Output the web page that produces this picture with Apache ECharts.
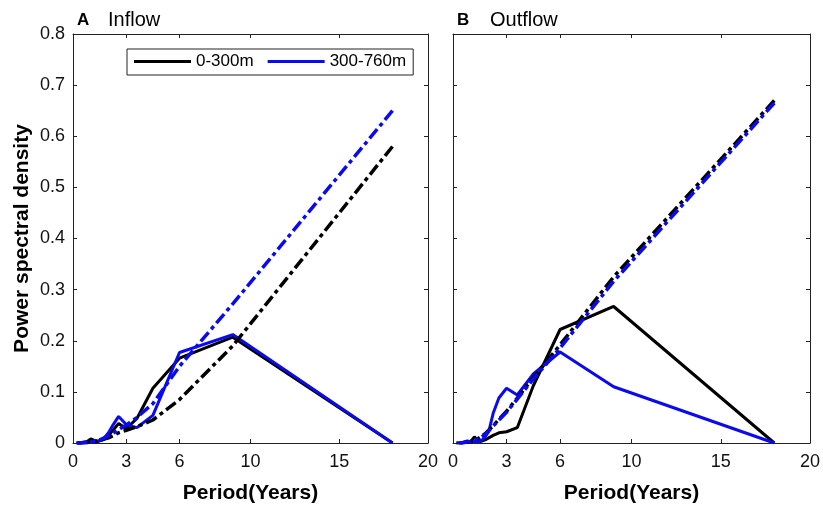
<!DOCTYPE html>
<html>
<head>
<meta charset="utf-8">
<script src="https://cdn.jsdelivr.net/npm/echarts@6/dist/echarts.min.js"></script>
<style>
  html, body { margin: 0; padding: 0; background: #fff; }
  #chart { width: 823px; height: 506px; }
</style>
</head>
<body>
<div id="chart"></div>
<script>
// periods (years) of the spectral estimates
var periods = [18, 9, 6, 4.5, 3.6, 3, 2.57, 2.25, 2, 1.8, 1.64, 1.5, 1.38, 1.2, 1, 0.8, 0.6, 0.4, 0.2];

// A - inflow
var inflowUpper = [0, 0.207, 0.166, 0.107, 0.048, 0.028, 0.038, 0.025, 0.015, 0.009, 0.006, 0.004, 0.003, 0.005, 0.008, 0.003, 0.001, 0, 0];
var inflowLower = [0, 0.212, 0.177, 0.054, 0.03, 0.036, 0.052, 0.035, 0.02, 0.012, 0.008, 0.005, 0.003, 0.002, 0.002, 0.001, 0, 0, 0];
var inflowUpperSig = [0.58, 0.19, 0.085, 0.045, 0.032, 0.025, 0.02, 0.014, 0.01, 0.008, 0.006, 0.005, 0.004, 0.003, 0.002, 0.001, 0.001, 0, 0];
var inflowLowerSig = [0.65, 0.272, 0.15, 0.077, 0.05, 0.035, 0.026, 0.019, 0.014, 0.01, 0.008, 0.006, 0.005, 0.004, 0.002, 0.001, 0.001, 0, 0];

// B - outflow
var outflowUpper = [0, 0.267, 0.222, 0.112, 0.03, 0.022, 0.02, 0.015, 0.01, 0.006, 0.004, 0.003, 0.005, 0.012, 0.003, 0.002, 0.001, 0, 0];
var outflowLower = [0, 0.11, 0.178, 0.135, 0.094, 0.107, 0.088, 0.058, 0.022, 0.012, 0.006, 0.004, 0.002, 0.003, 0.002, 0.004, 0.001, 0, 0];
var outflowUpperSig = [0.67, 0.325, 0.192, 0.128, 0.088, 0.062, 0.046, 0.034, 0.025, 0.018, 0.014, 0.011, 0.008, 0.006, 0.003, 0.002, 0.001, 0, 0];
var outflowLowerSig = [0.665, 0.316, 0.186, 0.125, 0.086, 0.06, 0.045, 0.033, 0.024, 0.017, 0.013, 0.01, 0.008, 0.006, 0.003, 0.002, 0.001, 0, 0];

var xTicks = [0, 3, 6, 10, 15, 20];
var layerNames = ['0-300m', '300-760m'];

var BLACK = '#000000';
var BLUE = '#0a0af0';
var FONT = 'Liberation Sans, Arial, sans-serif';
var dashDot = [12, 4, 4, 4];

function pairs(ys) {
    return periods.map(function (p, i) { return [p, ys[i]]; });
}

var chart = echarts.init(document.getElementById('chart'));

function xAxisFor(grid, pos) {
    var bottom = pos === 'bottom';
    return {
        type: 'value', gridIndex: grid, position: pos,
        min: 0, max: 20,
        name: bottom ? 'Period(Years)' : '',
        nameLocation: 'middle', nameGap: 40,
        nameTextStyle: { fontFamily: FONT, fontSize: 21, fontWeight: 'bold', color: '#000' },
        axisLine: { onZero: false, lineStyle: { color: '#222', width: 1 } },
        axisTick: { inside: true, length: 4, customValues: xTicks, lineStyle: { color: '#222' } },
        axisLabel: {
            show: bottom, customValues: xTicks, margin: 10,
            fontFamily: FONT, fontSize: 18, color: '#111'
        },
        splitLine: { show: false }
    };
}

function yAxisFor(grid, pos, labels) {
    return {
        type: 'value', gridIndex: grid, position: pos,
        min: 0, max: 0.8, interval: 0.1,
        name: labels ? 'Power spectral density' : '',
        nameLocation: 'middle', nameGap: 40,
        nameTextStyle: { fontFamily: FONT, fontSize: 21, fontWeight: 'bold', color: '#000' },
        axisLine: { show: true, onZero: false, lineStyle: { color: '#222', width: 1 } },
        axisTick: { show: true, inside: true, length: 4, lineStyle: { color: '#222' } },
        axisLabel: {
            show: labels, margin: 8,
            fontFamily: FONT, fontSize: 18, color: '#111',
            formatter: function (v) { return String(Math.round(v * 10) / 10); }
        },
        splitLine: { show: false }
    };
}

function line(name, grid, ys, color, dashed) {
    return {
        name: name, type: 'line',
        xAxisIndex: grid * 2, yAxisIndex: grid * 2,
        data: pairs(ys),
        showSymbol: false, symbol: 'none',
        animation: false,
        lineStyle: { color: color, width: dashed ? 3.5 : 3, type: dashed ? dashDot : 'solid', cap: 'butt' },
        itemStyle: { color: color }
    };
}

function panelTitle(letter, word, left, letterWidth) {
    return {
        text: '{b|' + letter + '}{n|' + word + '}', left: left, top: 5,
        textStyle: {
            rich: {
                b: { fontFamily: FONT, fontSize: 17, fontWeight: 'bold', color: '#000', width: letterWidth },
                n: { fontFamily: FONT, fontSize: 20, fontWeight: 'normal', color: '#000' }
            }
        }
    };
}

var option = {
    backgroundColor: '#fff',
    animation: false,
    title: [panelTitle('A', 'Inflow', 72, 31), panelTitle('B', 'Outflow', 452, 33)],
    legend: {
        data: layerNames,
        left: 127, top: 49,
        orient: 'horizontal',
        icon: 'rect', itemWidth: 57, itemHeight: 3, itemGap: 14,
        borderColor: '#222', borderWidth: 1, borderRadius: 0,
        padding: [4, 7, 5, 7],
        backgroundColor: '#fff',
        textStyle: { fontFamily: FONT, fontSize: 17, color: '#000' },
        selectedMode: false
    },
    grid: [
        { left: 73, top: 34, width: 355, height: 409, outerBoundsMode: 'none' },
        { left: 453, top: 34, width: 357, height: 409, outerBoundsMode: 'none' }
    ],
    xAxis: [xAxisFor(0, 'bottom'), xAxisFor(0, 'top'), xAxisFor(1, 'bottom'), xAxisFor(1, 'top')],
    yAxis: [yAxisFor(0, 'left', true), yAxisFor(0, 'right', false), yAxisFor(1, 'left', false), yAxisFor(1, 'right', false)],
    series: [
        line(layerNames[0], 0, inflowUpper, BLACK, false),
        line(layerNames[1], 0, inflowLower, BLUE, false),
        line(layerNames[0], 0, inflowUpperSig, BLACK, true),
        line(layerNames[1], 0, inflowLowerSig, BLUE, true),
        line(layerNames[0], 1, outflowUpper, BLACK, false),
        line(layerNames[1], 1, outflowLower, BLUE, false),
        line(layerNames[0], 1, outflowUpperSig, BLACK, true),
        line(layerNames[1], 1, outflowLowerSig, BLUE, true)
    ]
};

chart.setOption(option);
</script>
</body>
</html>
